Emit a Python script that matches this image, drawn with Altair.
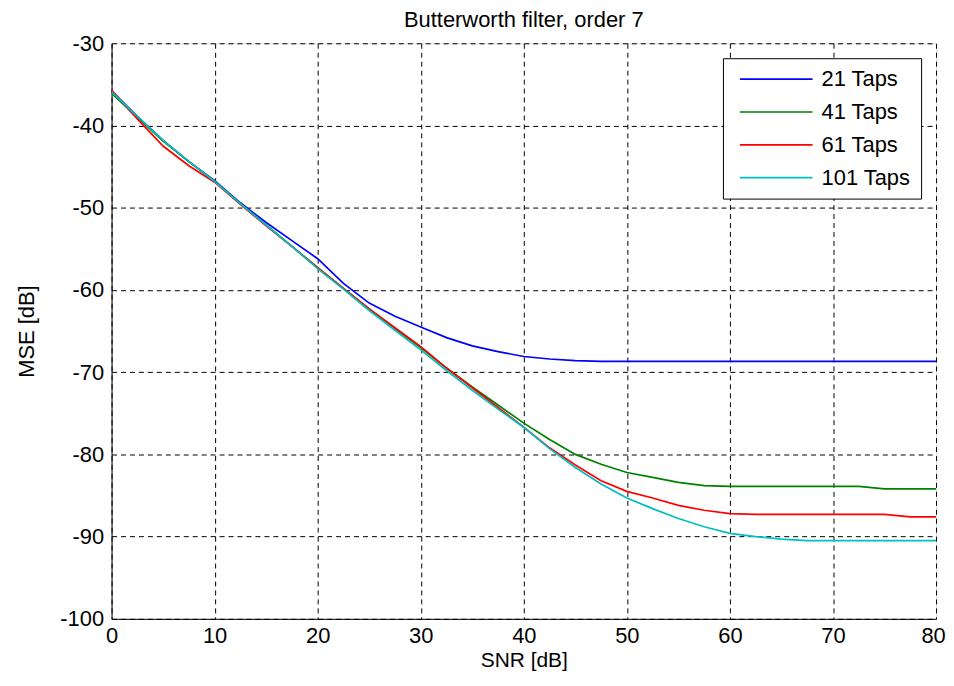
import altair as alt
import pandas as pd

snr = [0, 2.5, 5, 7.5, 10, 12.5, 15, 17.5, 20, 22.5, 25, 27.5, 30, 32.5, 35, 37.5,
       40, 42.5, 45, 47.5, 50, 52.5, 55, 57.5, 60, 62.5, 65, 67.5, 70, 72.5, 75, 77.5, 80]

taps21 = [-35.8, -38.9, -41.8, -44.4, -46.7, -49.4, -51.8, -54.0, -56.2, -59.2, -61.6, -63.2,
          -64.5, -65.8, -66.8, -67.5, -68.1, -68.4, -68.6, -68.7, -68.7, -68.7, -68.7, -68.7,
          -68.7, -68.7, -68.7, -68.7, -68.7, -68.7, -68.7, -68.7, -68.7]
taps41 = [-36.1, -39.0, -41.9, -44.4, -46.8, -49.5, -52.1, -54.7, -57.3, -59.8, -62.3, -64.7,
          -67.0, -69.5, -71.8, -74.0, -76.2, -78.2, -80.0, -81.2, -82.2, -82.8, -83.4, -83.8,
          -83.9, -83.9, -83.9, -83.9, -83.9, -83.9, -84.2, -84.2, -84.2]
taps61 = [-35.7, -39.2, -42.5, -44.9, -46.9, -49.6, -52.2, -54.7, -57.3, -59.8, -62.3, -64.6,
          -66.9, -69.5, -71.9, -74.3, -76.7, -79.2, -81.3, -83.2, -84.5, -85.3, -86.2, -86.8,
          -87.2, -87.3, -87.3, -87.3, -87.3, -87.3, -87.3, -87.6, -87.6]
taps101 = [-35.9, -38.9, -41.8, -44.4, -46.8, -49.5, -52.1, -54.7, -57.4, -59.9, -62.5, -64.9,
           -67.3, -69.8, -72.2, -74.5, -76.7, -79.3, -81.6, -83.6, -85.3, -86.6, -87.8, -88.8,
           -89.6, -90.0, -90.3, -90.5, -90.5, -90.5, -90.5, -90.5, -90.5]

series_names = ["21 Taps", "41 Taps", "61 Taps", "101 Taps"]
series_colors = ["#0000FF", "#008000", "#FF0000", "#00BFBF"]
x_ticks = [0, 10, 20, 30, 40, 50, 60, 70, 80]
y_ticks = [-100, -90, -80, -70, -60, -50, -40, -30]

rows = []
for name, vals in zip(series_names, [taps21, taps41, taps61, taps101]):
    for s, v in zip(snr, vals):
        rows.append({"SNR": s, "MSE": v, "series": name})
df = pd.DataFrame(rows)

FONT = "Liberation Sans"
FS = 22

common_axis = dict(grid=True, gridColor="black", gridDash=[5, 4], gridOpacity=1, gridWidth=1,
                   domainColor="black", ticks=False, labelFontSize=FS, labelFont=FONT,
                   labelColor="black", titleFont=FONT,
                   titleFontWeight="normal", titleColor="black", labelFlush=False,
                   labelExpr="'' + datum.value")

chart = alt.Chart(df).mark_line(strokeWidth=1.7, clip=True).encode(
    x=alt.X("SNR:Q", scale=alt.Scale(domain=[0, 80], nice=False, zero=False),
            axis=alt.Axis(values=x_ticks, title="SNR [dB]", labelPadding=7,
                          labelOffset={"condition": {"test": "datum.value == 80", "value": -3},
                                       "value": 0},
                          titleFontSize=21, titlePadding=3, **common_axis)),
    y=alt.Y("MSE:Q", scale=alt.Scale(domain=[-100, -30], nice=False, zero=False),
            axis=alt.Axis(values=y_ticks, title="MSE [dB]", labelPadding=8,
                          titleFontSize=FS, titlePadding=21, **common_axis)),
    color=alt.Color("series:N",
                    scale=alt.Scale(domain=series_names, range=series_colors),
                    legend=alt.Legend(title=None, orient="none", legendX=614, legendY=15,
                                      fillColor="white", strokeColor="black",
                                      padding=10, symbolOffset=6, symbolType="stroke",
                                      symbolSize=5329, symbolStrokeWidth=1.7,
                                      clipHeight=22, rowPadding=11,
                                      labelFontSize=FS, labelFont=FONT, labelColor="black",
                                      labelOffset=8)),
).properties(
    width=828,
    height=578,
    title=alt.TitleParams("Butterworth filter, order 7", fontSize=FS, font=FONT,
                          fontWeight="normal", color="black", anchor="middle", offset=0),
    padding={"left": 104, "top": 34, "right": 10, "bottom": 54},
    autosize=alt.AutoSizeParams(type="none"),
).configure_view(stroke="black", strokeWidth=1.3).configure(background="white")

chart.save("out.html", embed_options={"renderer": "svg", "actions": False})
